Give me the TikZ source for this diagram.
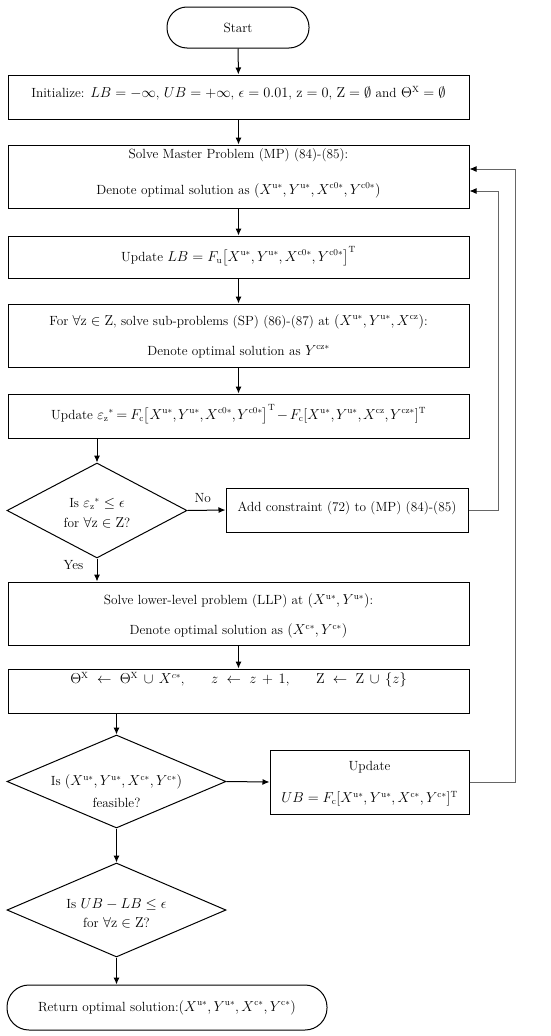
\documentclass[tikz,border=0pt]{standalone}
\usepackage{amsmath,amssymb}
\usetikzlibrary{shapes.geometric,arrows.meta,calc}
\newcommand{\myfs}{\fontsize{13.3}{16}\selectfont}
\newcommand{\rmu}{\mathrm{u}}
\newcommand{\rmc}{\mathrm{c}}
\newcommand{\tightmath}{\medmuskip=2mu plus 1mu\thickmuskip=3.5mu plus 1mu\thinmuskip=2mu}
\begin{document}
\begin{tikzpicture}[x=1pt,y=-1pt,
  font=\myfs,
  box/.style={draw, line width=1pt, rectangle, minimum width=461pt, inner sep=2pt, align=center},
  term/.style={draw, line width=1pt, rectangle, rounded corners=20pt, align=center, inner sep=2pt},
  dec/.style={draw, line width=1pt, diamond, inner sep=0pt, align=center},
  txt/.style={inner sep=0pt, align=center},
  arr/.style={line width=1pt, -{Latex[length=7pt,width=6pt]}},
  loopline/.style={line width=1pt, draw=black!60, -{Latex[length=7pt,width=6pt,color=black]}}
]
\useasboundingbox (0,0) rectangle (550,1036);

% Start
\node[term, minimum width=142pt, minimum height=41pt] (start) at (238,27.5) {Start};

% Initialize
\node[box, minimum height=44pt] (init) at (238.5,97) {};
\node[txt] (initT) at (238.5,93) {Initialize: $LB=-\infty$, $UB=+\infty$, $\epsilon=0.01$, $\mathrm{z}=0$, $\mathrm{Z}=\emptyset$ and $\Theta^{\mathrm{X}}=\emptyset$};

% Master problem
\node[box, minimum height=63pt] (mp) at (238.5,176.5) {};
\node[txt] (mpT) at (238.5,173) {Solve Master Problem (MP) (84)-(85):\\[20pt]
Denote optimal solution as $(X^{\rmu*},Y^{\rmu*},X^{\rmc0*},Y^{\rmc0*})$};

% LB update
\node[box, minimum height=42pt] (lb) at (238.5,257) {};
\node[txt] (lbT) at (238.5,256) {Update $LB=F_{\rmu}\bigl[X^{\rmu*},Y^{\rmu*},X^{\rmc0*},Y^{\rmc0*}\bigr]^{\mathrm{T}}$};

% Sub-problems
\node[box, minimum height=63pt] (sp) at (238.5,335.5) {};
\node[txt] (spT) at (238.5,336) {For $\forall\mathrm{z}\in\mathrm{Z}$, solve sub-problems (SP) (86)-(87) at $(X^{\rmu*},Y^{\rmu*},X^{\rmc\mathrm{z}})$:\\[14pt]
Denote optimal solution as $Y^{\rmc\mathrm{z}*}$};

% eps update
\node[box, minimum height=44pt] (eps) at (238.5,416) {};
\node[txt] (epsT) at (238.5,414) {\tightmath Update $\varepsilon_{\mathrm{z}}{}^{*}=F_{\rmc}\bigl[X^{\rmu*},Y^{\rmu*},X^{\rmc0*},Y^{\rmc0*}\bigr]^{\mathrm{T}}-F_{\rmc}[X^{\rmu*},Y^{\rmu*},X^{\rmc\mathrm{z}},Y^{\rmc\mathrm{z}*}]^{\mathrm{T}}$};

% Decision 1
\node[dec, minimum width=180pt, minimum height=95pt] (d1) at (97,510.5) {};
\node[txt] (d1T) at (97,513) {Is $\varepsilon_{\mathrm{z}}{}^{*}\le\epsilon$\\[4pt] for $\forall\mathrm{z}\in\mathrm{Z}$?};

% Add constraint
\node[box, minimum width=242pt, minimum height=44pt] (add) at (347,510) {};
\node[txt] (addT) at (347,508) {Add constraint (72) to (MP) (84)-(85)};

% LLP
\node[box, minimum height=63pt] (llp) at (238.5,613.5) {};
\node[txt] (llpT) at (238.5,616) {Solve lower-level problem (LLP) at $(X^{\rmu*},Y^{\rmu*})$:\\[14pt]
Denote optimal solution as $(X^{\rmc*},Y^{\rmc*})$};

% Theta update
\node[box, minimum height=44pt] (theta) at (238.5,691) {};
\node[txt] (thetaT) at (238.5,680) {$\Theta^{\mathrm{X}}\ \leftarrow\ \Theta^{\mathrm{X}}\,\cup\,X^{c*}$,\qquad $z\ \leftarrow\ z\,+\,1$,\qquad $\mathrm{Z}\ \leftarrow\ \mathrm{Z}\,\cup\,\{z\}$};

% Decision 2
\node[dec, minimum width=219pt, minimum height=93pt] (d2) at (116.5,781.5) {};
\node[txt] (d2T) at (116.5,791) {Is $(X^{\rmu*},Y^{\rmu*},X^{\rmc*},Y^{\rmc*})$\\[6pt] feasible?};

% UB update
\node[box, minimum width=199pt, minimum height=64pt] (ub) at (369.5,782) {};
\node[txt] (ubT) at (369.5,783.5) {Update\\[16pt] $UB=F_{\rmc}[X^{\rmu*},Y^{\rmu*},X^{\rmc*},Y^{\rmc*}]^{\mathrm{T}}$};

% Decision 3
\node[dec, minimum width=219pt, minimum height=94pt] (d3) at (116.5,910) {};
\node[txt] (d3T) at (116.5,913) {Is $UB-LB\le\epsilon$\\[3pt] for $\forall\mathrm{z}\in\mathrm{Z}$?};

% Return
\node[term, rounded corners=22pt, minimum width=320pt, minimum height=45pt] (ret) at (167,1007.5) {Return optimal solution:$(X^{\rmu*},Y^{\rmu*},X^{\rmc*},Y^{\rmc*})$};

% Connectors
\draw[arr] (start) -- (init);
\draw[arr] (init) -- (mp);
\draw[arr] (mp) -- (lb);
\draw[arr] (lb) -- (sp);
\draw[arr] (sp) -- (eps);
\draw[arr] (eps.south -| d1.north) -- (d1.north);
\draw[arr] (d1.east) -- node[above, pos=0.4, yshift=4pt] (no) {No} (add.west);
\draw[arr] (d1.south) -- node[left, pos=0.3, xshift=-10pt] (yes) {Yes} (llp.north -| d1.south);
\draw[arr] (llp) -- (theta);
\draw[arr] (theta.south -| d2.north) -- (d2.north);
\draw[arr] (d2.east) -- (ub.west);
\draw[arr] (d2.south) -- (d3.north);
\draw[arr] (d3.south) -- (ret.north -| d3.south);

% Loops back to MP
\draw[loopline] (add.east) -- ++(30,0) |- ([yshift=-14.5pt]mp.east);
\draw[loopline] (ub.east) -- ++(46,0) |- ([yshift=7.5pt]mp.east);
\end{tikzpicture}
\end{document}
